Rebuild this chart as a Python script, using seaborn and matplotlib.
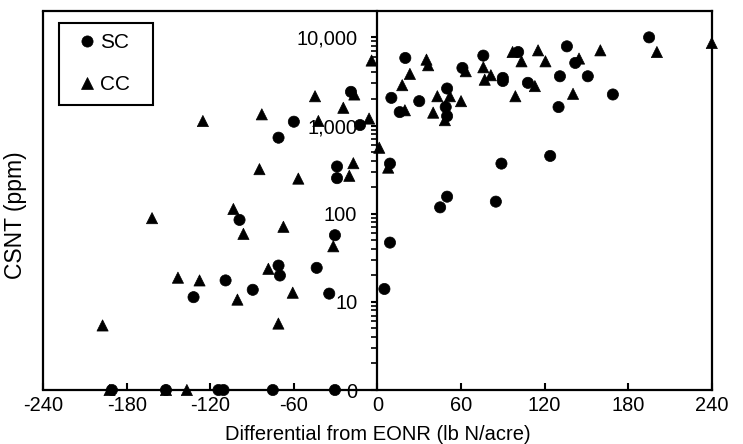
import numpy as np
import pandas as pd
import matplotlib
matplotlib.use('Agg')
import matplotlib.pyplot as plt
import matplotlib.ticker as mticker
from matplotlib.patches import Rectangle
import seaborn as sns

# SC (circles): differential from EONR and CSNT (ppm); 0 = below detection
sc_x = [195, 20, 10, 16, 30, 50, 49, 50, 61, 76, 90, 90, 101, 108, 136, 131, 142, 151,
        130, 169, 9, 89, 124, 50, 45, 85, 9, 5,
        -19, -60, -12.5, -71, -29, -29, -99, -30.5, -71, -70, -43.6, -109, -89.5, -132,
        -34.6, -190.6, -151.8, -114.1, -110.5, -75.1, -30.5]
sc_y = [10000, 5840, 2060, 1420, 1890, 2630, 1620, 1280, 4500, 6210, 3470, 3200, 6820,
        3050, 7910, 3620, 5130, 3620, 1620, 2250, 370, 370, 452, 156, 118, 137, 47, 14,
        2410, 1105, 1013, 728, 343, 253, 85, 57, 25.8, 19.9, 24.3, 17.5, 13.7, 11.3,
        12.4, 0, 0, 0, 0, 0, 0]

# CC (triangles)
cc_x = [240, 200.6, 160, 144.7, 115.3, 120.6, 97, 103.4, 99, 140.4, 113, 76, 77, 81.4,
        63.4, 60, 52, 43, 40, 48.4, 35.2, 36.4, 23.3, 17.8, 19.7, 1.3, 7.7,
        -4.2, -6, -44.8, -16.6, -24.5, -83, -125.3, -42.4, -84.7, -56.8, -17.3, -20.2,
        -161.8, -103.4, -96.2, -67.5, -31.7, -143.2, -127.7, -78.3, -60.8, -100.5,
        -71.1, -197.3, -192.3, -151.8, -136.8]
cc_y = [8630, 6820, 7130, 5750, 7130, 5350, 6820, 5350, 2150, 2290, 2800, 4580, 3310,
        3720, 4130, 1890, 2150, 2150, 1400, 1150, 5590, 4830, 3850, 2870, 1490, 560, 333,
        5460, 1200, 2150, 2250, 1590, 1340, 1125, 1125, 320, 250, 374, 269,
        89, 113, 59, 71, 42.7, 18.8, 17.5, 23.7, 12.7, 10.6,
        5.67, 5.4, 0, 0, 0]

x_ticks = [-240, -180, -120, -60, 0, 60, 120, 180, 240]
y_ticks = [1, 10, 100, 1000, 10000]
y_tick_labels = ['0', '10', '100', '1,000', '10,000']

df = pd.DataFrame({
    'diff': sc_x + cc_x,
    'csnt': sc_y + cc_y,
    'system': ['SC'] * len(sc_x) + ['CC'] * len(cc_x),
})
# zero values sit on the bottom of the log axis (labelled 0)
df['plot_y'] = np.where(df['csnt'] > 0, df['csnt'], 1)

sns.set_style('ticks')
plt.rcParams.update({
    'font.family': ['Liberation Sans', 'DejaVu Sans'],
    'text.color': 'black',
    'axes.labelcolor': 'black',
    'xtick.color': 'black',
    'ytick.color': 'black',
})

fig = plt.figure(figsize=(7.43, 4.44), dpi=100)
ax = fig.add_axes([0.058, 0.1216, 0.9, 0.854])

sns.scatterplot(data=df, x='diff', y='plot_y', style='system',
                markers={'SC': 'o', 'CC': '^'}, color='black', edgecolor='black',
                s=65, linewidth=0.5, ax=ax, clip_on=False, zorder=3)

ax.set_yscale('log')
ax.set_xlim(-240, 240)
ax.set_ylim(1, 20000)

ax.set_xticks(x_ticks)
ax.set_xticklabels([str(v) for v in x_ticks])
ax.set_yticks(y_ticks)
ax.set_yticklabels(y_tick_labels)
ax.yaxis.set_minor_locator(mticker.LogLocator(base=10, subs=np.arange(2, 10)))
ax.yaxis.set_minor_formatter(mticker.NullFormatter())

# y axis drawn through x = 0, frame on the other sides
ax.spines['left'].set_position(('data', 0))
for side in ['left', 'right', 'top', 'bottom']:
    ax.spines[side].set_visible(True)
    ax.spines[side].set_color('black')
    ax.spines[side].set_linewidth(1.6)
ax.axvline(-240, color='black', lw=1.6, clip_on=False)

ax.tick_params(axis='x', bottom=True, direction='in', length=5, width=1.5,
               labelsize=14.4, pad=4)
ax.tick_params(axis='y', which='major', left=True, direction='out', length=4,
               width=1.5, labelsize=14.4, pad=10.5)
ax.tick_params(axis='y', which='minor', left=True, direction='out', length=4, width=1.2)

ax.set_xlabel('Differential from EONR (lb N/acre)', fontsize=14.5, labelpad=7.5)
ax.set_ylabel('CSNT (ppm)', fontsize=16.5)
ax.yaxis.set_label_coords(-0.024, 0.46)

# legend without its own frame, boxed by a plain rectangle
leg = ax.legend(loc='upper left', bbox_to_anchor=(0.031, 0.98), borderaxespad=0,
                frameon=False, fontsize=15, labelspacing=1.1, handlelength=0.8,
                handletextpad=0.25, borderpad=0.7, title=None)
ax.add_patch(Rectangle((0.0239, 0.7526), 0.1405, 0.2158, transform=ax.transAxes,
                       fill=False, edgecolor='black', lw=1.5, zorder=4))

fig.savefig('out.png', dpi=100, facecolor='white')
